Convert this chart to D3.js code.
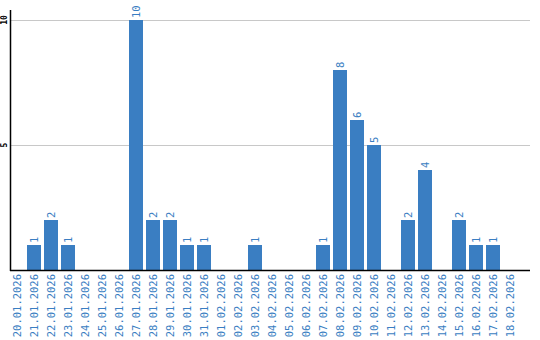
<!DOCTYPE html>
<html>
<head>
<meta charset="utf-8">
<script src="https://cdn.jsdelivr.net/npm/d3@7"></script>
<style>
  body { margin: 0; background: #fff; }
</style>
</head>
<body>
<div id="chart"></div>
<script>
// dates and counts per day
const dates = ["20.01.2026","21.01.2026","22.01.2026","23.01.2026","24.01.2026","25.01.2026",
  "26.01.2026","27.01.2026","28.01.2026","29.01.2026","30.01.2026","31.01.2026","01.02.2026",
  "02.02.2026","03.02.2026","04.02.2026","05.02.2026","06.02.2026","07.02.2026","08.02.2026",
  "09.02.2026","10.02.2026","11.02.2026","12.02.2026","13.02.2026","14.02.2026","15.02.2026",
  "16.02.2026","17.02.2026","18.02.2026"];
const counts = [0,1,2,1,0,0,0,10,2,2,1,1,0,0,1,0,0,0,1,8,6,5,0,2,4,0,2,1,1,0];
const yTicks = [5, 10];

function draw_bar_chart(chartID) {
    const width = 540, height = 340;
    const left = 10, right = 530, top = 10, bottom = 270;
    const blue = "#3a7ec2";

    d3.select(chartID).html("");
    const svg = d3.select(chartID).append("svg")
        .attr("width", width)
        .attr("height", height);

    const x = d3.scaleBand()
        .domain(dates)
        .range([left, left + 17 * dates.length - 3])
        .paddingInner(3 / 17)
        .paddingOuter(0);

    const y = d3.scaleLinear()
        .domain([0, 10])
        .range([bottom, 20]);

    // grid lines
    svg.selectAll(".grid")
        .data(yTicks)
        .enter()
        .append("line")
        .attr("x1", left)
        .attr("x2", right)
        .attr("y1", d => y(d) + 0.5)
        .attr("y2", d => y(d) + 0.5)
        .attr("stroke", "#c8c8c8")
        .attr("stroke-width", 1);

    // y tick labels (rotated)
    svg.selectAll(".ylab")
        .data(yTicks)
        .enter()
        .append("text")
        .attr("transform", d => `translate(7, ${y(d)}) rotate(-90)`)
        .attr("text-anchor", "middle")
        .style("font-family", "DejaVu Sans Mono, monospace")
        .style("font-size", "8px")
        .style("font-weight", "bold")
        .attr("fill", "#000")
        .text(d => d);

    // bars
    svg.selectAll(".bar")
        .data(counts.map((c, i) => ({date: dates[i], count: c})).filter(d => d.count > 0))
        .enter()
        .append("rect")
        .attr("x", d => x(d.date))
        .attr("y", d => y(d.count))
        .attr("width", x.bandwidth())
        .attr("height", d => y(0) - y(d.count))
        .attr("fill", blue);

    // value labels
    svg.selectAll(".val")
        .data(counts.map((c, i) => ({date: dates[i], count: c})).filter(d => d.count > 0))
        .enter()
        .append("text")
        .attr("transform", d => `translate(${x(d.date) + x.bandwidth() / 2 + 3.5}, ${y(d.count) - 2}) rotate(-90)`)
        .attr("text-anchor", "start")
        .style("font-family", "DejaVu Sans Mono, monospace")
        .style("font-size", "10.5px")
        .attr("fill", blue)
        .text(d => d.count);

    // axes lines
    svg.append("line")
        .attr("x1", left + 0.5).attr("x2", left + 0.5)
        .attr("y1", top).attr("y2", bottom + 1)
        .attr("stroke", "#000").attr("stroke-width", 1.5);
    svg.append("line")
        .attr("x1", left).attr("x2", right)
        .attr("y1", bottom + 0.5).attr("y2", bottom + 0.5)
        .attr("stroke", "#000").attr("stroke-width", 1.5);

    // x tick labels
    svg.selectAll(".xlab")
        .data(dates)
        .enter()
        .append("text")
        .attr("transform", d => `translate(${x(d) + x.bandwidth() / 2 + 3.5}, ${bottom + 4}) rotate(-90)`)
        .attr("text-anchor", "end")
        .style("font-family", "DejaVu Sans Mono, monospace")
        .style("font-size", "10.5px")
        .attr("fill", blue)
        .text(d => d);
}

draw_bar_chart("#chart");
</script>
</body>
</html>
